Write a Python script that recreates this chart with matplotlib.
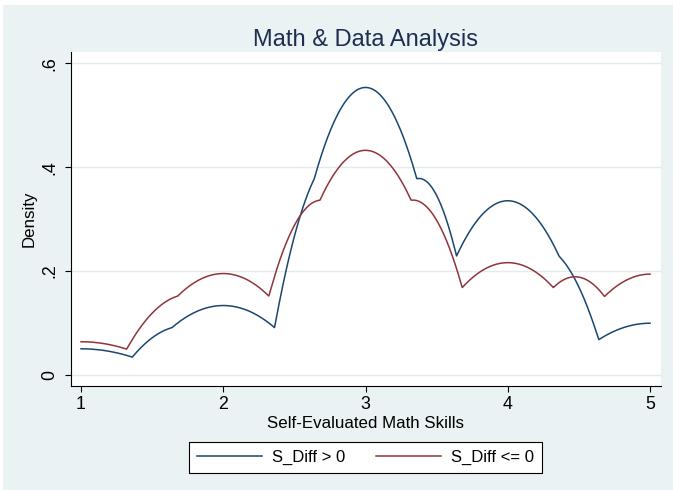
import numpy as np
import matplotlib
matplotlib.use("Agg")
import matplotlib.pyplot as plt
from matplotlib.patches import Rectangle

plt.rcParams['font.family'] = ['Liberation Sans', 'DejaVu Sans']

# Data: share of respondents at each self-evaluated math skill level
levels = [1, 2, 3, 4, 5]
share_pos = [0.043, 0.114, 0.472, 0.286, 0.085]      # S_Diff > 0
share_nonpos = [0.058, 0.177, 0.392, 0.196, 0.176]   # S_Diff <= 0
# kdensity (epanechnikov) bandwidths per group
bw_pos = 0.286
bw_nonpos = 0.304
labels = ['S_Diff > 0', 'S_Diff <= 0']
yticks = [0, 0.2, 0.4, 0.6]
ytick_labels = ['0', '.2', '.4', '.6']

BG = '#eaf2f3'
NAVY = '#1a476f'
MAROON = '#90353b'


def kdensity_epan(grid, pts, weights, h):
    # Stata epanechnikov kernel: 3/(4 sqrt5) (1 - z^2/5), |z| < sqrt5
    dens = np.zeros_like(grid)
    for p, w in zip(pts, weights):
        z = (grid - p) / h
        k = np.where(np.abs(z) < np.sqrt(5), 0.75 * (1 - z ** 2 / 5) / np.sqrt(5), 0.0)
        dens += w * k / h
    return dens


grid = np.linspace(min(levels), max(levels), 801)
dens_pos = kdensity_epan(grid, levels, share_pos, bw_pos)
dens_nonpos = kdensity_epan(grid, levels, share_nonpos, bw_nonpos)

fig = plt.figure(figsize=(6.73, 4.90), dpi=100)
fig.patch.set_facecolor('white')
fig.patches.append(Rectangle((3 / 673, 0), 1, 1 - 5 / 490, transform=fig.transFigure,
                             facecolor=BG, edgecolor='none', zorder=-10))

ax = fig.add_axes([70.5 / 673, 1 - 386 / 490, (660.7 - 70.5) / 673, (386 - 52.3) / 490])
ax.set_facecolor('white')
ax.plot(grid, dens_pos, color=NAVY, lw=1.1, label=labels[0])
ax.plot(grid, dens_nonpos, color=MAROON, lw=1.1, label=labels[1])

ax.set_xlim(0.926, 5.075)
ax.set_ylim(-0.0212, 0.6212)
ax.set_xticks(levels)
ax.set_xticklabels([str(v) for v in levels])
ax.set_yticks(yticks)
ax.set_yticklabels(ytick_labels, rotation=90, va='center')
ax.yaxis.grid(True, color='#e3eced', lw=1.0)
ax.set_axisbelow(True)

for s in ['top', 'right']:
    ax.spines[s].set_visible(False)
for s in ['left', 'bottom']:
    ax.spines[s].set_color('black')
    ax.spines[s].set_linewidth(0.8)
ax.tick_params(axis='both', length=4.3, width=0.8, color='black', labelsize=12.8)
ax.tick_params(axis='x', pad=3)
ax.tick_params(axis='y', pad=4.5)

ax.set_ylabel('Density', fontsize=12.2, labelpad=3)
fig.text(365.5 / 673, 1 - 428.3 / 490, 'Self-Evaluated Math Skills', ha='center',
         va='baseline', fontsize=12.2)
fig.text(365.5 / 673, 1 - 45.7 / 490, 'Math & Data Analysis', ha='center',
         va='baseline', fontsize=17, color='#1e2e50')

leg = fig.legend(loc='center', bbox_to_anchor=(365.5 / 673, 1 - 457.5 / 490), ncol=2,
                 fontsize=12, frameon=True, fancybox=False, handlelength=3.9,
                 handletextpad=0.6, columnspacing=1.9, borderpad=0.45)
leg.get_frame().set_edgecolor('black')
leg.get_frame().set_linewidth(0.8)
leg.get_frame().set_facecolor('white')
leg.get_frame().set_alpha(1)

fig.savefig('out.png', dpi=100, facecolor=fig.get_facecolor())
